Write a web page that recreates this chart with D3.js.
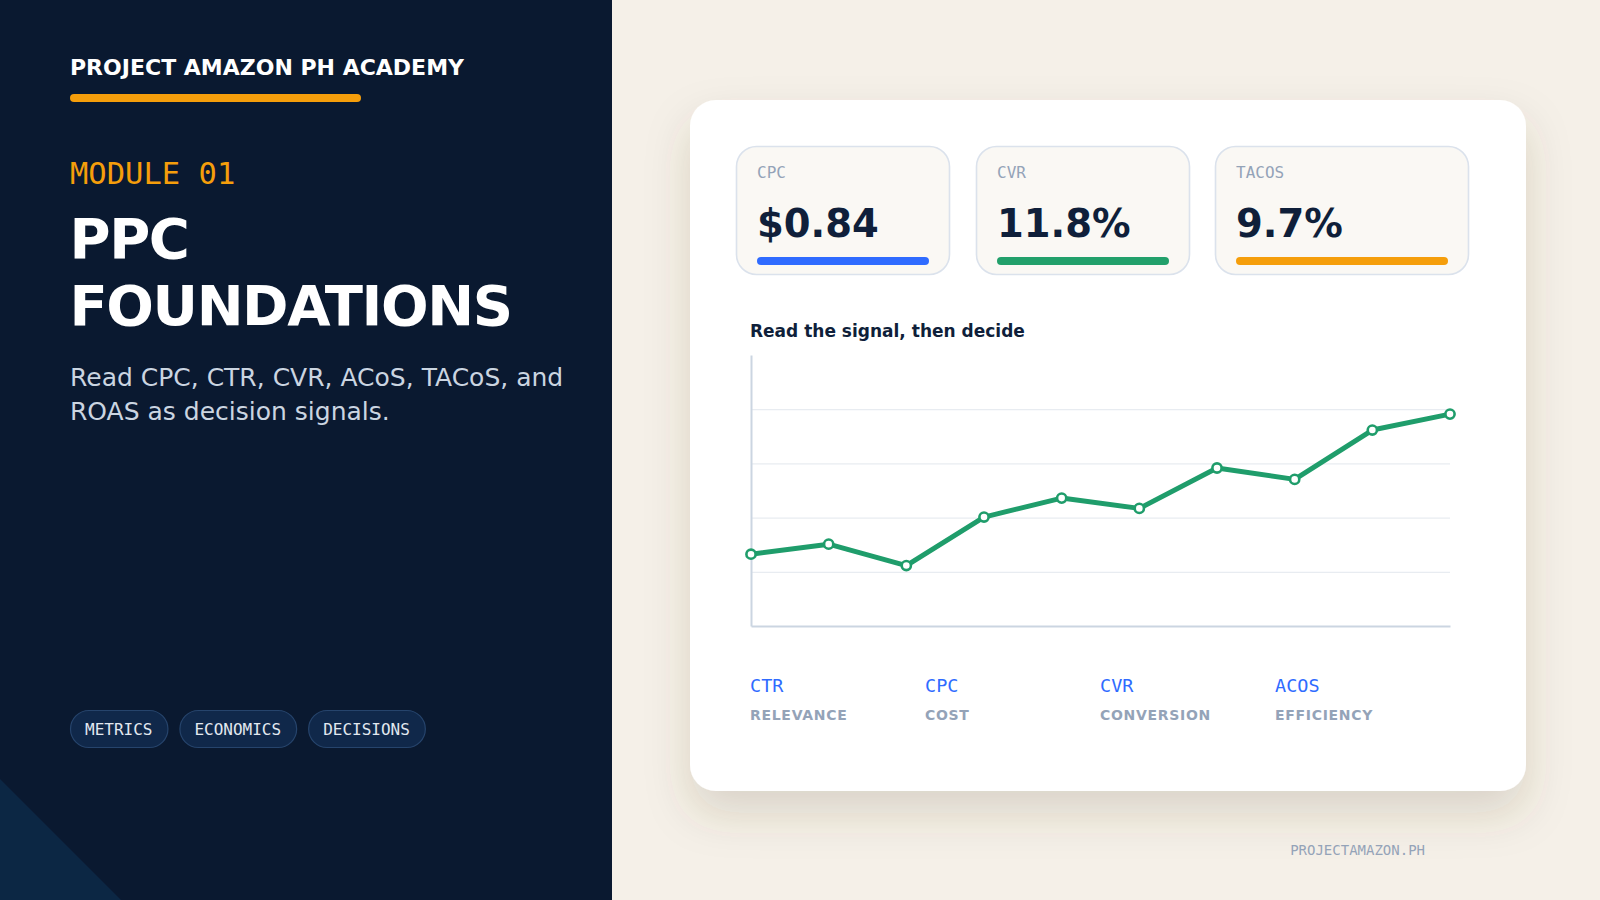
<!DOCTYPE html>
<html>
<head>
<meta charset="utf-8">
<script src="https://cdn.jsdelivr.net/npm/d3@7"></script>
<style>
  html, body { margin: 0; padding: 0; background: #f5f0e8; }
  svg { display: block; }
  .sans { font-family: "DejaVu Sans", sans-serif; }
  .mono { font-family: "DejaVu Sans Mono", monospace; }
</style>
</head>
<body>
<svg></svg>
<script>
// DATA ////////////////////////////////////////////////////////////////////////
const brand = 'PROJECT AMAZON PH ACADEMY';
const moduleLabel = 'MODULE 01';
const titleLines = ['PPC', 'FOUNDATIONS'];
const subtitleLines = ['Read CPC, CTR, CVR, ACoS, TACoS, and', 'ROAS as decision signals.'];
const tags = ['METRICS', 'ECONOMICS', 'DECISIONS'];

const kpiNames = ['CPC', 'CVR', 'TACOS'];
const kpiValues = ['$0.84', '11.8%', '9.7%'];

const chartTitle = 'Read the signal, then decide';
const signalSteps = [1, 2, 3, 4, 5, 6, 7, 8, 9, 10];
const signalValues = [26.5, 30.2, 22.3, 40.2, 47.2, 43.4, 58.3, 54.1, 72.3, 78.2];
const yTicks = [0, 20, 40, 60, 80, 100];

const legendTerms = ['CTR', 'CPC', 'CVR', 'ACOS'];
const legendMeanings = ['RELEVANCE', 'COST', 'CONVERSION', 'EFFICIENCY'];

const footer = 'PROJECTAMAZON.PH';

// SET PARAMETERS //////////////////////////////////////////////////////////////
const svg = d3.select('svg').attr('width', 1600).attr('height', 900);
const navy = '#0a1930';
const ink = '#0f1f3a';
const muted = '#94a3b8';
const orange = '#f59e0b';
const green = '#1f9d6b';
const kpiColor = ['#2f6bff', '#22a06b', '#f59e0b'];

// background
svg.append('rect').attr('width', 1600).attr('height', 900).attr('fill', '#f5f0e8');

// LEFT PANEL //////////////////////////////////////////////////////////////////
const left = svg.append('g');
left.append('rect').attr('width', 612).attr('height', 900).attr('fill', navy);
left.append('path')
  .attr('d', 'M0,779 L121,900 L0,900 Z')
  .attr('fill', '#0c2744');

left.append('text')
  .attr('class', 'sans')
  .attr('x', 70).attr('y', 75)
  .attr('fill', '#ffffff')
  .attr('font-size', 22).attr('font-weight', 700)
  .text(brand);

left.append('rect')
  .attr('x', 70).attr('y', 94).attr('width', 291).attr('height', 8).attr('rx', 4)
  .attr('fill', orange);

left.append('text')
  .attr('class', 'mono')
  .attr('x', 70).attr('y', 184)
  .attr('fill', orange)
  .attr('font-size', 30.5)
  .text(moduleLabel);

left.selectAll('.title')
  .data(titleLines)
  .enter()
  .append('text')
  .attr('class', 'title sans')
  .attr('x', 69.5)
  .attr('y', (d, i) => 258 + i * 67)
  .attr('fill', '#ffffff')
  .attr('font-size', 56).attr('font-weight', 700)
  .attr('letter-spacing', -1.4)
  .text(d => d);

left.selectAll('.sub')
  .data(subtitleLines)
  .enter()
  .append('text')
  .attr('class', 'sub sans')
  .attr('x', 70)
  .attr('y', (d, i) => 386 + i * 33.5)
  .attr('fill', '#cbd5e1')
  .attr('font-size', 25)
  .text(d => d);

// tags (pills sized from their text)
let tagX = 70;
tags.forEach(t => {
  const g = left.append('g').attr('transform', `translate(${tagX},710)`);
  const txt = g.append('text')
    .attr('class', 'mono')
    .attr('x', 15).attr('y', 25)
    .attr('fill', '#e2e8f0')
    .attr('font-size', 16)
    .text(t);
  const w = txt.node().getComputedTextLength() + 30;
  g.insert('rect', 'text')
    .attr('x', 0.5).attr('y', 0.5)
    .attr('width', w).attr('height', 37).attr('rx', 18.5)
    .attr('fill', '#10284a').attr('stroke', '#26446c').attr('stroke-width', 1.2);
  tagX += w + 12;
});

// CARD ////////////////////////////////////////////////////////////////////////
const defs = svg.append('defs');
const shadow = defs.append('filter').attr('id', 'shadow')
  .attr('x', '-20%').attr('y', '-20%').attr('width', '140%').attr('height', '150%');
shadow.append('feDropShadow')
  .attr('dx', 0).attr('dy', 22).attr('stdDeviation', 22)
  .attr('flood-color', '#5a4a30').attr('flood-opacity', 0.17);

svg.append('rect')
  .attr('x', 690).attr('y', 100).attr('width', 836).attr('height', 691).attr('rx', 26)
  .attr('fill', '#ffffff')
  .attr('filter', 'url(#shadow)');

// kpi boxes
const kpiX = [736, 976, 1215];
const kpiW = [214, 214, 254];
const kpi = svg.selectAll('.kpi')
  .data(kpiNames)
  .enter()
  .append('g')
  .attr('class', 'kpi')
  .attr('transform', (d, i) => `translate(${kpiX[i]},146)`);

kpi.append('rect')
  .attr('x', 0.5).attr('y', 0.5)
  .attr('width', (d, i) => kpiW[i] - 1).attr('height', 128).attr('rx', 20)
  .attr('fill', '#faf8f4').attr('stroke', '#dbe2ec').attr('stroke-width', 1.6);

kpi.append('text')
  .attr('class', 'mono')
  .attr('x', 21).attr('y', 32)
  .attr('fill', muted)
  .attr('font-size', 16)
  .text(d => d);

kpi.append('text')
  .attr('class', 'sans')
  .attr('x', 21).attr('y', 91)
  .attr('fill', ink)
  .attr('font-size', 38.5).attr('font-weight', 700)
  .text((d, i) => kpiValues[i]);

kpi.append('rect')
  .attr('x', 21).attr('y', 111)
  .attr('width', (d, i) => kpiW[i] - 42).attr('height', 8).attr('rx', 4)
  .attr('fill', (d, i) => kpiColor[i]);

// LINE CHART //////////////////////////////////////////////////////////////////
svg.append('text')
  .attr('class', 'sans')
  .attr('x', 750).attr('y', 337)
  .attr('fill', ink)
  .attr('font-size', 17).attr('font-weight', 700)
  .text(chartTitle);

const plot = { left: 751, right: 1450, top: 355, bottom: 626 };
const x = d3.scalePoint().domain(signalSteps).range([plot.left, plot.right]);
const y = d3.scaleLinear().domain([0, 100]).range([plot.bottom, plot.top]);

// gridlines
const grid = svg.append('g')
  .attr('transform', `translate(${plot.left},0)`)
  .call(d3.axisLeft(y).tickValues(yTicks.slice(1, -1))
    .tickSize(-(plot.right - plot.left)).tickFormat(''));
grid.select('.domain').remove();
grid.selectAll('.tick line').attr('stroke', '#e8ecf1').attr('stroke-width', 1.3);

// axes
const yAxis = svg.append('g')
  .attr('transform', `translate(${plot.left},0)`)
  .call(d3.axisLeft(y).tickValues([]).tickSizeOuter(0));
yAxis.select('.domain').attr('stroke', '#cbd5e1').attr('stroke-width', 2);

const xAxis = svg.append('g')
  .attr('transform', `translate(0,${plot.bottom})`)
  .call(d3.axisBottom(x).tickValues([]).tickSizeOuter(0));
xAxis.select('.domain').attr('stroke', '#cbd5e1').attr('stroke-width', 2);

const line = d3.line()
  .x((d, i) => x(signalSteps[i]))
  .y(d => y(d));

svg.append('path')
  .datum(signalValues)
  .attr('d', line)
  .attr('fill', 'none')
  .attr('stroke', green)
  .attr('stroke-width', 5)
  .attr('stroke-linejoin', 'round')
  .attr('stroke-linecap', 'round');

svg.selectAll('.dot')
  .data(signalValues)
  .enter()
  .append('circle')
  .attr('class', 'dot')
  .attr('cx', (d, i) => x(signalSteps[i]))
  .attr('cy', d => y(d))
  .attr('r', 4.6)
  .attr('fill', '#ffffff')
  .attr('stroke', green)
  .attr('stroke-width', 2.6);

// LEGEND //////////////////////////////////////////////////////////////////////
const legendX = d3.scaleBand().domain(legendTerms).range([plot.left - 1, plot.right]);

svg.selectAll('.term')
  .data(legendTerms)
  .enter()
  .append('text')
  .attr('class', 'term mono')
  .attr('x', d => legendX(d))
  .attr('y', 692)
  .attr('fill', '#2f6bff')
  .attr('font-size', 18.5)
  .text(d => d);

svg.selectAll('.meaning')
  .data(legendMeanings)
  .enter()
  .append('text')
  .attr('class', 'meaning sans')
  .attr('x', (d, i) => legendX(legendTerms[i]))
  .attr('y', 720)
  .attr('fill', muted)
  .attr('font-size', 14).attr('font-weight', 700)
  .attr('letter-spacing', 0.7)
  .text(d => d);

// footer
svg.append('text')
  .attr('class', 'mono')
  .attr('x', 1425).attr('y', 855)
  .attr('text-anchor', 'end')
  .attr('fill', muted)
  .attr('font-size', 14)
  .text(footer);
</script>
</body>
</html>
